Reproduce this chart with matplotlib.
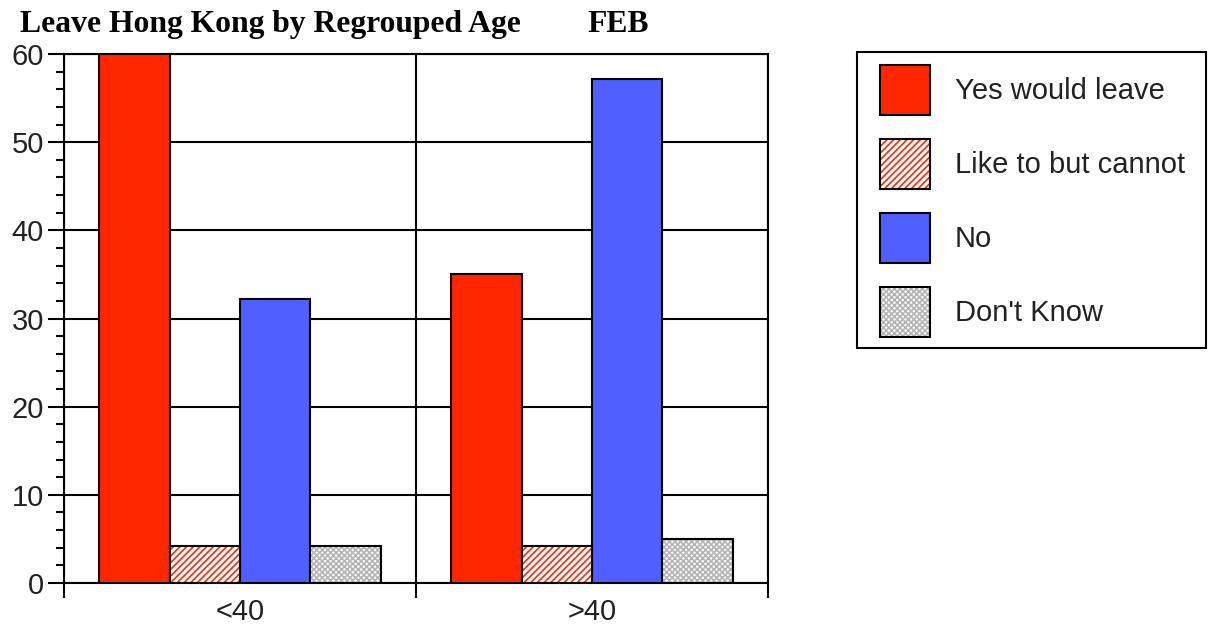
import matplotlib.pyplot as plt
from matplotlib.patches import Patch, Rectangle
from matplotlib.legend_handler import HandlerTuple
import numpy as np

groups = ['<40', '>40']
series = ['Yes would leave', 'Like to but cannot', 'No', "Don't Know"]
yes_leave = [60.0, 35.0]
like_cannot = [4.2, 4.2]
no_leave = [32.2, 57.2]
dont_know = [4.2, 5.0]

red = '#ff2600'
blue = '#5060ff'
gray = '#b4b4b4'

plt.rcParams['font.family'] = ['Liberation Sans', 'DejaVu Sans']
plt.rcParams['hatch.linewidth'] = 1.2

fig = plt.figure(figsize=(12.08, 6.31), dpi=100)
ax = fig.add_axes([64/1208, 1-583/631, 704/1208, 529/631])

x = np.arange(len(groups)) + 0.5
w = 0.2
offsets = [-1.5*w, -0.5*w, 0.5*w, 1.5*w]

# solid bars
ax.bar(x + offsets[0], yes_leave, w, color=red, edgecolor='black', linewidth=1.5, zorder=3)
ax.bar(x + offsets[2], no_leave, w, color=blue, edgecolor='black', linewidth=1.5, zorder=3)
# hatched bars: hatch layer then black outline
ax.bar(x + offsets[1], like_cannot, w, color='white', edgecolor=red, hatch='/////', linewidth=0, zorder=3)
ax.bar(x + offsets[1], like_cannot, w, fill=False, edgecolor='black', linewidth=1.5, zorder=4)
ax.bar(x + offsets[3], dont_know, w, color='white', edgecolor=gray, hatch='xxxxxx', linewidth=0, zorder=3)
ax.bar(x + offsets[3], dont_know, w, fill=False, edgecolor='black', linewidth=1.5, zorder=4)

ax.set_xlim(0, len(groups))
ax.set_ylim(0, 60)

ax.set_yticks(np.arange(0, 61, 10))
ax.set_yticks(np.arange(0, 61, 2), minor=True)
ax.tick_params(axis='y', which='major', length=11.5, width=1.5, labelsize=21, pad=3, labelcolor='#222222')
ax.tick_params(axis='y', which='minor', length=5.8, width=1.5)

ax.set_xticks([0, 1, 2])
ax.set_xticklabels([])
ax.set_xticks(x, minor=True)
ax.set_xticklabels(groups, minor=True)
ax.tick_params(axis='x', which='major', length=11, width=1.5)
ax.tick_params(axis='x', which='minor', length=0, labelsize=21, pad=11, labelcolor='#222222')

ax.yaxis.grid(True, which='major', color='black', linewidth=1.5, zorder=1)
ax.xaxis.grid(True, which='major', color='black', linewidth=1.5, zorder=1)
ax.set_axisbelow(True)
for s in ax.spines.values():
    s.set_linewidth(1.5)

# legend frame drawn by hand, legend itself unframed
fig.patches.append(Rectangle((857/1208, 1-348/631), 349/1208, 296/631, transform=fig.transFigure,
                             fill=False, edgecolor='black', linewidth=1.5))
handles = [
    Patch(facecolor=red, edgecolor='black', linewidth=1.5),
    (Patch(facecolor='white', edgecolor=red, hatch='/////', linewidth=0),
     Patch(fill=False, edgecolor='black', linewidth=1.5)),
    Patch(facecolor=blue, edgecolor='black', linewidth=1.5),
    (Patch(facecolor='white', edgecolor=gray, hatch='xxxxxx', linewidth=0),
     Patch(fill=False, edgecolor='black', linewidth=1.5)),
]
leg = fig.legend(handles, series, loc='upper left', bbox_to_anchor=(880/1208, 1-65/631),
                 fontsize=21, frameon=False, labelcolor='#222222',
                 handlelength=1.71, handleheight=2.26, labelspacing=0.82, handletextpad=0.85,
                 borderpad=0, borderaxespad=0, handler_map={tuple: HandlerTuple(ndivide=1)})

fig.text(20/1208, 1-32/631, 'Leave Hong Kong by Regrouped Age', family='Liberation Serif',
         weight='bold', fontsize=22.8, va='baseline', ha='left')
fig.text(587/1208, 1-32/631, 'FEB', family='Liberation Serif',
         weight='bold', fontsize=22.8, va='baseline', ha='left')

fig.savefig('out.png', dpi=100)
